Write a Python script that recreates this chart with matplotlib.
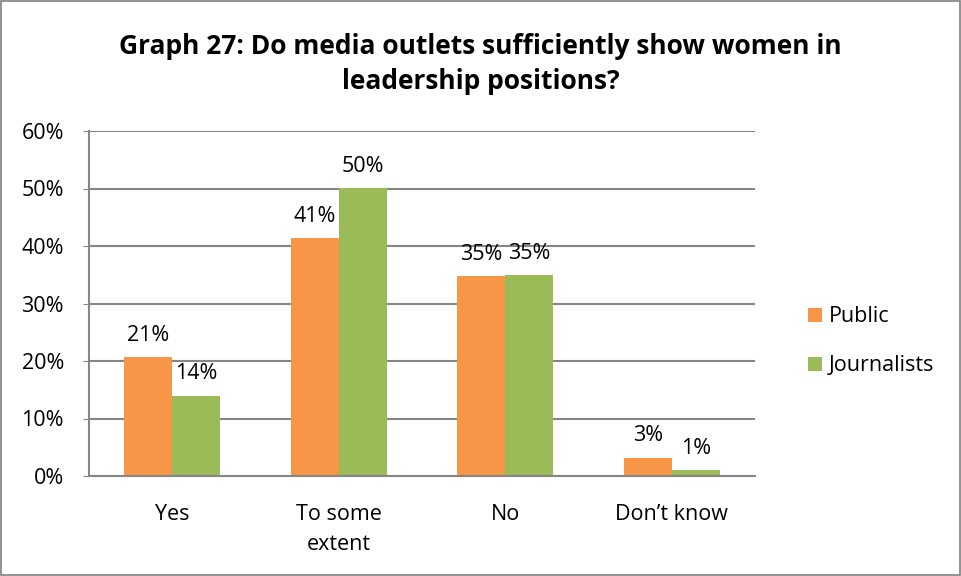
import numpy as np
import matplotlib
matplotlib.use("Agg")
import matplotlib.pyplot as plt
from matplotlib.patches import Rectangle

categories = ["Yes", "To some\nextent", "No", "Don\u2019t know"]
public = [20.7, 41.4, 34.7, 3.2]
journalists = [14.0, 50.1, 35.0, 1.0]
public_labels = ["21%", "41%", "35%", "3%"]
journalist_labels = ["14%", "50%", "35%", "1%"]
series_names = ["Public", "Journalists"]

orange = "#F79646"
green = "#9BBB59"
grid_color = "#868686"

plt.rcParams["font.family"] = ["Open Sans", "DejaVu Sans"]

fig = plt.figure(figsize=(9.61, 5.76), dpi=100)
fig.patches.append(Rectangle((0.001, 0.001), 0.998, 0.997, transform=fig.transFigure,
                             fill=False, edgecolor="#7f7f7f", linewidth=1.2))
ax = fig.add_axes([89 / 961, 1 - 476 / 576, 666 / 961, 345 / 576])

x = np.arange(len(categories))
w = 0.287
b1 = ax.bar(x - w / 2, public, w, color=orange, label=series_names[0])
b2 = ax.bar(x + w / 2, journalists, w, color=green, label=series_names[1])

for bars, labels in ((b1, public_labels), (b2, journalist_labels)):
    for bar, lab in zip(bars, labels):
        ax.annotate(lab, (bar.get_x() + bar.get_width() / 2, bar.get_height()),
                    xytext=(0, 8), textcoords="offset points",
                    ha="center", va="bottom", fontsize=15.5)

ax.set_xlim(-0.5, len(categories) - 0.5)
ax.set_ylim(0, 60)
ax.set_yticks(range(0, 61, 10))
ax.set_yticklabels([f"{v}%" for v in range(0, 61, 10)], fontsize=15.5)
ax.set_xticks(x)
ax.set_xticklabels(categories, fontsize=15.5, linespacing=1.6)
ax.tick_params(axis="x", length=0, pad=20)
ax.tick_params(axis="y", length=4, color=grid_color, pad=14)
ax.yaxis.grid(True, color=grid_color, linewidth=1.5)
ax.set_axisbelow(True)
for side in ("top", "right"):
    ax.spines[side].set_visible(False)
for side in ("left", "bottom"):
    ax.spines[side].set_color(grid_color)
    ax.spines[side].set_linewidth(1.5)

fig.text(0.5, 1 - 64 / 576, "Graph 27: Do media outlets sufficiently show women in\nleadership positions?",
         ha="center", va="center", fontsize=19, fontweight="bold", linespacing=1.4)

ax.legend(loc="center left", bbox_to_anchor=(1.05, 0.39), frameon=False,
          fontsize=15.5, handlelength=0.65, handleheight=0.65, handletextpad=0.35,
          labelspacing=1.3)

fig.savefig("out.png", dpi=100)
